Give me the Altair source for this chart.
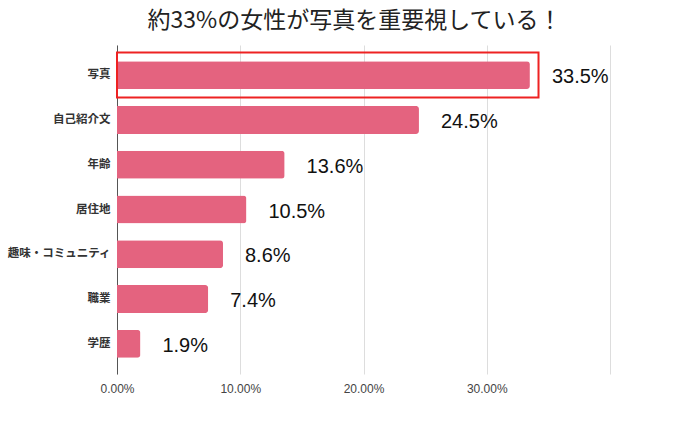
import altair as alt
import pandas as pd

categories = ["写真", "自己紹介文", "年齢", "居住地", "趣味・コミュニティ", "職業", "学歴"]
values = [0.335, 0.245, 0.136, 0.105, 0.086, 0.074, 0.019]
x_ticks = [0.0, 0.1, 0.2, 0.3, 0.4]
highlight_category = ["写真"]
highlight_end = [0.342]

df = pd.DataFrame({"category": categories, "value": values})
hl = pd.DataFrame({"category": highlight_category, "start": [0.0], "end": highlight_end})

y_enc = alt.Y(
    "category:N",
    sort=categories,
    title=None,
    scale=alt.Scale(paddingInner=0.375, paddingOuter=0.36),
    axis=alt.Axis(
        ticks=False,
        domain=True,
        domainColor="#555555",
        labelFont="Noto Sans CJK JP",
        labelFontWeight="bold",
        labelFontSize=11.5,
        labelColor="#333333",
        labelPadding=7,
        grid=False,
    ),
)
x_scale = alt.Scale(domain=[0, 0.4], nice=False)
x_axis = alt.Axis(
    values=x_ticks,
    format=".2%",
    labelExpr="datum.value >= 0.399 ? '' : datum.label",
    title=None,
    ticks=False,
    domain=False,
    grid=True,
    gridColor="#dddddd",
    gridWidth=1,
    labelFont="Liberation Sans",
    labelFontSize=12,
    labelColor="#444444",
    labelPadding=9,
    labelAlign="center",
    labelFlush=False,
)

bars = alt.Chart(df).mark_bar(color="#e4637f", cornerRadiusEnd=3).encode(
    y=y_enc,
    x=alt.X("value:Q", scale=x_scale, axis=x_axis),
)

labels = alt.Chart(df).mark_text(
    align="left", baseline="middle", dx=22, dy=2, fontSize=20,
    font="Liberation Sans", color="#111111",
).encode(
    y=alt.Y("category:N", sort=categories),
    x=alt.X("value:Q", scale=x_scale),
    text=alt.Text("value:Q", format=".1%"),
)

box = alt.Chart(hl).mark_bar(
    size=45, filled=False, stroke="#ee2222", strokeWidth=2
).encode(
    y=alt.Y("category:N", sort=categories),
    x=alt.X("start:Q", scale=x_scale),
    x2="end:Q",
)

chart = (
    alt.layer(bars, box, labels)
    .properties(
        width=493,
        height=329,
        padding={"left": 117, "top": 45, "right": 80, "bottom": 51},
        autosize=alt.AutoSizeParams(type="none"),
        title=alt.TitleParams(
            "約33%の女性が写真を重要視している！",
            font="Noto Sans CJK JP",
            fontSize=23,
            fontWeight="normal",
            color="#222222",
            anchor="middle",
            dx=-9,
            offset=12,
        ),
    )
    .configure_view(stroke=None)
)

chart.save("out.html", embed_options={"renderer": "svg", "actions": False})
